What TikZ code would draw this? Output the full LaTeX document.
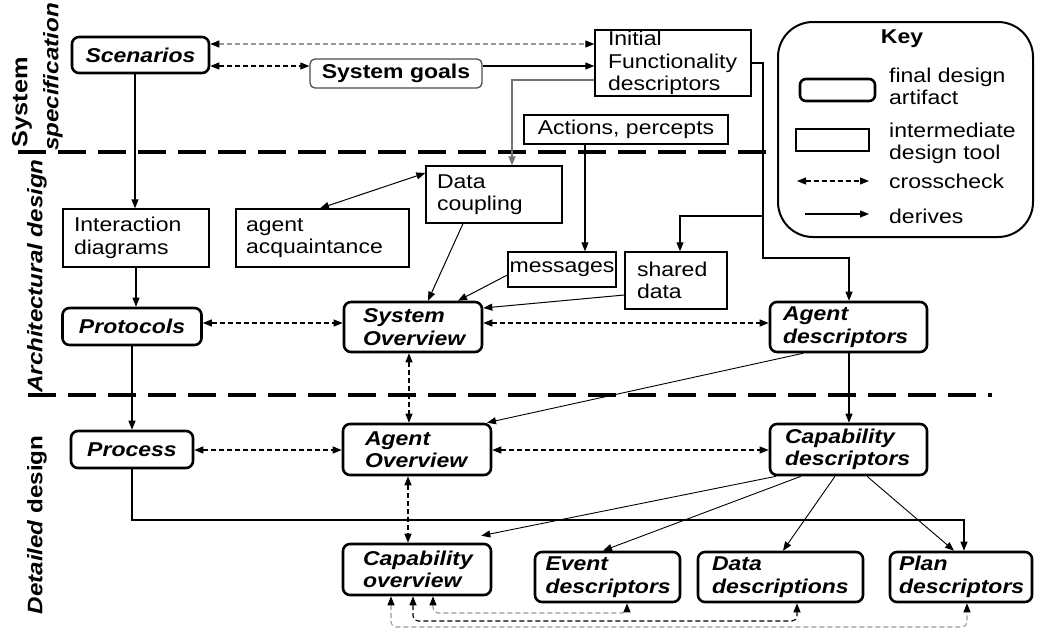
\documentclass[tikz,border=0pt]{standalone}
\usepackage{fontspec}
\setmainfont{Liberation Sans}[FakeStretch=1.15]
\usetikzlibrary{arrows.meta}
\begin{document}
\begin{tikzpicture}[x=1pt,y=-1pt,
  every node/.style={font=\fontsize{20}{22.5}\selectfont, inner sep=0pt},
  final/.style={draw, line width=2.6pt, rounded corners=7pt, font=\fontsize{20}{22.5}\selectfont\bfseries\itshape, align=left},
  inter/.style={draw, line width=1.3pt, align=left},
  tip/.style={},
  der/.style={line width=1.1pt, -{Triangle[length=9pt,width=7pt]}},
  cross/.style={line width=1.1pt, dash pattern=on 5pt off 3pt, {Triangle[length=9pt,width=7pt,color=black]}-{Triangle[length=9pt,width=7pt,color=black]}},
  crossg/.style={cross, draw=black!40},
  sep/.style={line width=4pt, dash pattern=on 28pt off 12pt},
  side/.style={rotate=90, font=\fontsize{21}{23}\selectfont\bfseries\itshape},
]
\useasboundingbox (0,0) rectangle (1037,630);

% side labels
\node[side, font=\fontsize{22}{23}\selectfont\bfseries] (lsys) at (22,102) {System};
\node[side] (lspec) at (53,77) {specification};
\node[side] (larch) at (37,276) {Architectural design};
\node[side] (ldet) at (37,525) {Detailed \upshape design};

% key
\node[draw, line width=2pt, rounded corners=35pt, minimum width=255pt, minimum height=215pt] (key) at (905.5,129.5) {};
\node[font=\fontsize{20}{22.5}\selectfont\bfseries] (keyt) at (902,39) {Key};
\node[draw, line width=2.6pt, rounded corners=6pt, minimum width=75pt, minimum height=22pt] (kfin) at (837.5,90) {};
\node[inter, minimum width=73pt, minimum height=22pt] (kint) at (832.5,140) {};
\node[anchor=west, align=left] (kfint) at (889,86.5) {final design\\artifact};
\node[anchor=west, align=left] (kintt) at (889,143.5) {intermediate\\design tool};
\node[anchor=west] (kcrt) at (889,181) {crosscheck};
\node[anchor=west] (kdert) at (889,216) {derives};
\coordinate (kc1) at (797,181);
\coordinate (kc2) at (869,181);
\coordinate (kd1) at (805,214);
\coordinate (kd2) at (869,214);
\draw[cross] (kc1) -- (kc2);
\draw[der] (kd1) -- (kd2);

% separators
\coordinate (sepA) at (18,152);
\draw[sep] (sepA) -- (key.west |- sepA);
\coordinate (sepB1) at (28,395);
\coordinate (sepB2) at (992,395);
\draw[sep] (sepB1) -- (sepB2);

% system specification
\node[final, minimum width=137pt, minimum height=36pt] (scen) at (140.5,55) {Scenarios};
\node[draw=black!70, line width=1.3pt, rounded corners=5pt, minimum width=172pt, minimum height=29pt, font=\fontsize{20}{22.5}\selectfont\bfseries] (goals) at (396,73.5) {System goals};
\node[inter, minimum width=156pt, minimum height=66pt, text width=130pt] (ifd) at (673,63) {Initial\\Functionality\\descriptors};
\node[inter, minimum width=204pt, minimum height=29pt] (act) at (626,129.5) {Actions, percepts};

% architectural design
\node[inter, minimum width=146pt, minimum height=58pt, text width=124pt] (idiag) at (136,238) {Interaction\\diagrams};
\node[inter, minimum width=173pt, minimum height=58pt, text width=153pt] (acq) at (322.5,238) {agent\\acquaintance};
\node[inter, minimum width=136pt, minimum height=57pt, text width=114pt] (dcoup) at (494,194.5) {Data\\coupling};
\node[inter, minimum width=108pt, minimum height=35pt] (msgs) at (562,269.5) {messages};
\node[inter, minimum width=102pt, minimum height=57pt, text width=78pt] (shared) at (676,280.5) {shared\\data};
\node[final, minimum width=139pt, minimum height=37pt] (proto) at (132,326.5) {Protocols};
\node[final, minimum width=138pt, minimum height=50pt, text width=100pt] (sysov) at (413,327) {System\\Overview};
\node[final, minimum width=157pt, minimum height=50pt, text width=131pt] (agdesc) at (848.5,327) {Agent\\descriptors};

% detailed design
\node[final, minimum width=122pt, minimum height=37pt] (process) at (132,449.5) {Process};
\node[final, minimum width=148pt, minimum height=51pt, text width=104pt] (agov) at (417,449.5) {Agent\\Overview};
\node[final, minimum width=157pt, minimum height=51pt, text width=127pt] (capdesc) at (848.5,449.5) {Capability\\descriptors};
\node[final, minimum width=148pt, minimum height=51pt, text width=108pt] (capov) at (417,569.5) {Capability\\overview};
\node[final, minimum width=145pt, minimum height=50pt, text width=124pt] (event) at (607.5,577) {Event\\descriptors};
\node[final, minimum width=165pt, minimum height=50pt, text width=137pt] (datad) at (780.5,577) {Data\\descriptions};
\node[final, minimum width=142pt, minimum height=50pt, text width=124pt] (plan) at (961,577) {Plan\\descriptors};

% connectors: system specification
\draw[crossg] ([yshift=11pt]scen.east) -- ([yshift=11pt]scen.east -| ifd.west);
\draw[cross] ([yshift=-11pt]scen.east) -- ([yshift=-11pt]scen.east -| goals.west);
\draw[der] (goals.east |- 0,66) -- (ifd.west |- 0,66);
\draw[der, draw=black!55] (ifd.west |- 0,80) -| (dcoup.north -| 512,0);
\draw[der] (act.south -| 585,0) -- (msgs.north -| 585,0);
\coordinate (j1) at (763,216);
\draw[der] (ifd.east |- 0,63) -- (763,63) -- (763,258) -| (agdesc.north -| 849,0);
\draw[der] (j1) -| (shared.north -| 680,0);

% connectors: architectural design
\draw[der] (scen.south -| 135,0) -- (idiag.north -| 135,0);
\draw[der] (idiag.south -| 136,0) -- (proto.north -| 136,0);
\draw[cross] (proto.east |- 0,323) -- (sysov.west |- 0,323);
\draw[line width=1pt, {Triangle[length=9pt,width=7pt]}-{Triangle[length=9pt,width=7pt]}] (acq.north -| 320,0) -- (dcoup.west |- 0,173);
\draw[der, line width=1pt] (dcoup.south -| 463,0) -- (sysov.north -| 428,0);
\draw[der, line width=1pt] (msgs.west |- 0,275) -- (sysov.north -| 458,0);
\draw[der, line width=1pt] (shared.west |- 0,295) -- (sysov.east |- 0,308);
\draw[cross] (sysov.east |- 0,323) -- (agdesc.west |- 0,323);
\draw[cross] (sysov.south -| 409,0) -- (agov.north -| 409,0);
\draw[der, line width=0.9pt] (agdesc.south -| 803,0) -- (agov.north -| 487,0);
\draw[der] (agdesc.south -| 849,0) -- (capdesc.north -| 849,0);
\draw[der] (proto.south -| 132,0) -- (process.north -| 132,0);

% connectors: detailed design
\draw[cross] (process.east |- 0,450) -- (agov.west |- 0,450);
\draw[cross] (agov.east |- 0,450) -- (capdesc.west |- 0,450);
\draw[cross] (agov.south -| 408,0) -- (capov.north -| 408,0);
\draw[der] (process.south -| 132,0) |- (964,520) -- (plan.north -| 964,0);
\draw[der, line width=0.9pt] (capdesc.south -| 776,0) -- ([shift={(-11pt,7pt)}]capov.north east);
\draw[der, line width=0.9pt] (capdesc.south -| 801,0) -- (event.north -| 603,0);
\draw[der, line width=0.9pt] (capdesc.south -| 835,0) -- (datad.north -| 783,0);
\draw[der, line width=0.9pt] (capdesc.south -| 867,0) -- (plan.north -| 954,0);

% bottom crosschecks
\draw[crossg, rounded corners=5pt] (capov.south -| 433,0) -- (433,613) -- (627,613) -- (event.south -| 627,0);
\draw[cross, rounded corners=5pt] (capov.south -| 413,0) -- (413,621) -- (797,621) -- (datad.south -| 797,0);
\draw[crossg, rounded corners=5pt] (capov.south -| 391,0) -- (391,627) -- (967,627) -- (plan.south -| 967,0);
\end{tikzpicture}
\end{document}
